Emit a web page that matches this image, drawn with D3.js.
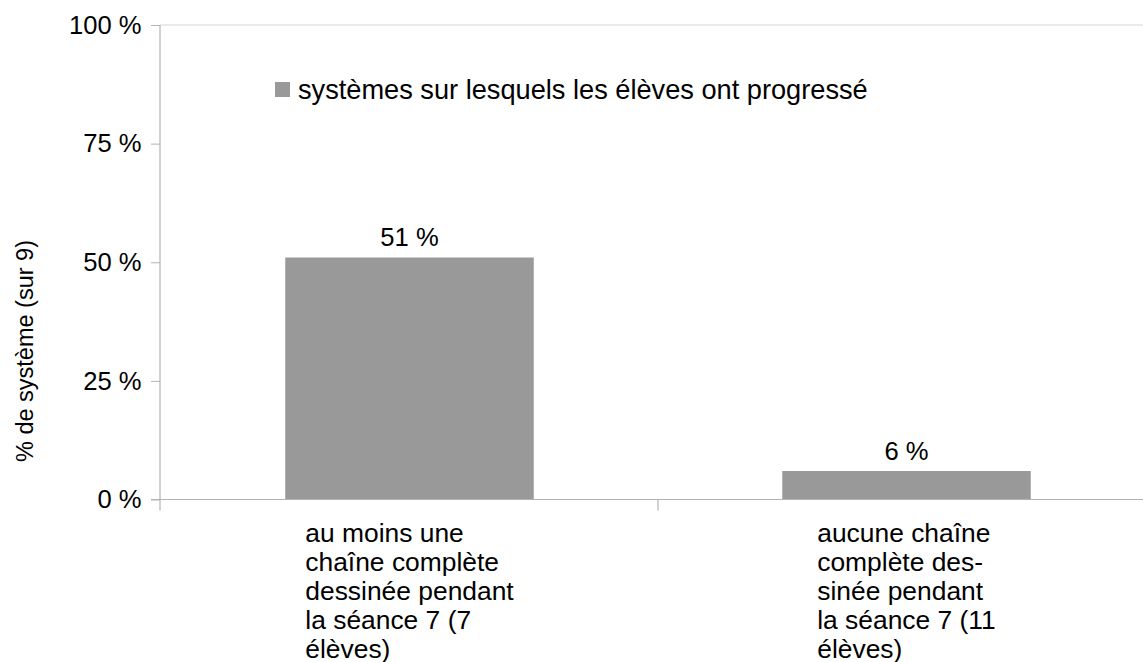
<!DOCTYPE html>
<html>
<head>
<meta charset="utf-8">
<script src="https://cdn.jsdelivr.net/npm/d3@7"></script>
<style>
  html, body { margin: 0; padding: 0; background: #fff; }
  svg { display: block; font-family: "Liberation Sans", Arial, sans-serif; }
</style>
</head>
<body>
<svg id="chart" width="1143" height="662"></svg>
<script>
// Categories (each label split into the lines it is printed on)
const categories = ["cat1", "cat2"];
const categoryLines = [
  ["au moins une", "chaîne complète", "dessinée pendant", "la séance 7 (7", "élèves)"],
  ["aucune chaîne", "complète des-", "sinée pendant", "la séance 7 (11", "élèves)"]
];
// Share of systems on which pupils progressed
const values = [0.51, 0.06];
const valueLabels = ["51 %", "6 %"];
const yTicks = [0, 0.25, 0.5, 0.75, 1];
const seriesName = "systèmes sur lesquels les élèves ont progressé";
const yTitle = "% de système (sur 9)";

const svg = d3.select("#chart");
const W = 1143, H = 662;
const plot = { left: 160, top: 25, bottom: 499.5, right: 1155 };
const axisColor = "#b3b3b3";
const barColor = "#999999";

svg.append("rect").attr("width", W).attr("height", H).attr("fill", "#fff");

const y = d3.scaleLinear().domain([0, 1]).range([plot.bottom, plot.top]);
const x = d3.scaleBand().domain(categories).range([plot.left + 1, plot.right])
  .paddingInner(0.5).paddingOuter(0.25);

// top border line
svg.append("line")
  .attr("x1", plot.left).attr("x2", W)
  .attr("y1", y(1)).attr("y2", y(1))
  .attr("stroke", "#d6d6d6").attr("stroke-width", 1.2);

// y axis
const yAxis = d3.axisLeft(y).tickValues(yTicks)
  .tickFormat(d => Math.round(d * 100) + " %")
  .tickSize(9).tickPadding(9.5);
const gy = svg.append("g").attr("transform", `translate(${plot.left},0)`).call(yAxis);
gy.select(".domain").remove();
gy.selectAll(".tick line").attr("stroke", axisColor);
gy.selectAll(".tick text").attr("font-size", 25.6).attr("fill", "#000")
  .attr("font-family", "Liberation Sans, Arial, sans-serif");

// vertical axis line extending past the baseline
svg.append("line")
  .attr("x1", plot.left).attr("x2", plot.left)
  .attr("y1", plot.top).attr("y2", plot.bottom + 11)
  .attr("stroke", axisColor).attr("stroke-width", 1.2);

// bars
svg.append("g").selectAll("rect").data(values).join("rect")
  .attr("x", (d, i) => x(categories[i]))
  .attr("width", x.bandwidth())
  .attr("y", d => y(d))
  .attr("height", d => y(0) - y(d))
  .attr("fill", barColor);

// baseline
svg.append("line")
  .attr("x1", plot.left - 9).attr("x2", W)
  .attr("y1", plot.bottom).attr("y2", plot.bottom)
  .attr("stroke", axisColor).attr("stroke-width", 1.2);

// category separators on the x axis
const step = x.step();
categories.slice(1).forEach((c, i) => {
  const xs = x(c) - step * x.paddingInner() / 2;
  svg.append("line")
    .attr("x1", xs).attr("x2", xs)
    .attr("y1", plot.bottom).attr("y2", plot.bottom + 11)
    .attr("stroke", axisColor).attr("stroke-width", 1.2);
});

// value labels
svg.append("g").selectAll("text").data(values).join("text")
  .attr("x", (d, i) => x(categories[i]) + x.bandwidth() / 2)
  .attr("y", d => y(d) - 11.5)
  .attr("text-anchor", "middle")
  .attr("font-size", 25.6).attr("fill", "#000")
  .text((d, i) => valueLabels[i]);

// category labels: lines left-aligned, block centred under the bar
categoryLines.forEach((lines, i) => {
  const cx = x(categories[i]) + x.bandwidth() / 2;
  const t = svg.append("text").attr("font-size", 26.4).attr("fill", "#000");
  const spans = lines.map((ln, k) => t.append("tspan")
    .attr("y", 541.5 + k * 29).text(ln));
  const w = d3.max(spans, s => s.node().getComputedTextLength());
  spans.forEach(s => s.attr("x", cx - w / 2));
});

// legend
svg.append("rect").attr("x", 275).attr("y", 82).attr("width", 15).attr("height", 15)
  .attr("fill", barColor);
svg.append("text").attr("x", 298).attr("y", 98.5)
  .attr("font-size", 27.2).attr("fill", "#000").text(seriesName);

// y axis title
svg.append("text")
  .attr("transform", "translate(33,351) rotate(-90)")
  .attr("text-anchor", "middle")
  .attr("font-size", 23.5).attr("fill", "#000")
  .text(yTitle);
</script>
</body>
</html>
